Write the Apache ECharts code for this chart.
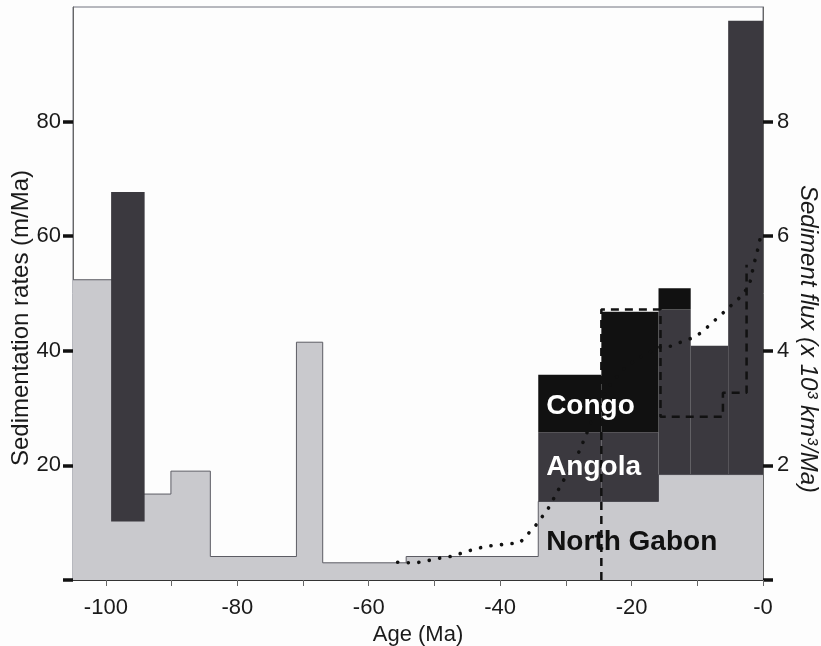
<!DOCTYPE html>
<html>
<head>
<meta charset="utf-8">
<script src="https://cdn.jsdelivr.net/npm/echarts@6/dist/echarts.min.js"></script>
<style>
  html, body { margin: 0; padding: 0; background: #fdfdfd; }
  #chart { width: 821px; height: 646px; }
</style>
</head>
<body>
<div id="chart"></div>
<script>
// North Gabon sedimentation rate (m/Ma): step profile, value holds from each age to the next
const gabonAge  = [-105, -96.5, -90.1, -84.1, -71.0, -67.0, -54.3, -34.2, -15.9, 0];
const gabonRate = [52.4, 15.0, 19.0, 4.1, 41.5, 3.0, 4.1, 13.7, 18.4, 18.4];

// Neogene blocks stacked on top of North Gabon (m/Ma)
const blockStart = [-34.2, -24.6, -15.9, -11.0, -5.3];
const blockEnd   = [-24.6, -15.9, -11.0, -5.3, 0];
const angolaRate = [12.1, 12.1, 28.8, 22.5, 79.2];
const congoRate  = [10.0, 21.0, 3.7, 0, 0];

// isolated Cretaceous bar (m/Ma)
const earlyBarAge  = [-99.2, -94.1];
const earlyBarRate = [10.2, 67.7];

// sediment flux curve (x 10^3 km^3/Ma)
const fluxAge   = [-55.6, -53.8, -52.1, -50.5, -48.8, -47.1, -45.4, -43.8, -42.1, -40.4, -38.7, -37.0,
                   -35.8, -34.6, -33.5, -32.5, -31.4, -30.5, -29.4, -28.4, -27.1, -25.5, -23.6, -21.5,
                   -19.3, -17.2, -15.4, -14.0, -12.1, -10.6, -9.1, -7.8, -6.6, -5.3, -4.0, -2.1, -1.4, -0.8, -0.4];
const fluxValue = [0.31, 0.30, 0.31, 0.35, 0.39, 0.42, 0.49, 0.54, 0.59, 0.61, 0.63, 0.65,
                   0.80, 0.95, 1.12, 1.28, 1.52, 1.71, 1.92, 2.13, 2.48, 2.95, 3.36, 3.65,
                   3.85, 3.98, 4.08, 4.08, 4.17, 4.23, 4.34, 4.49, 4.60, 4.75, 4.87, 5.13, 5.50, 5.77, 5.98];

// dashed step of the flux (x 10^3 km^3/Ma)
const stepAge  = [-24.6, -24.6, -15.6, -15.6, -6.1, -6.1, -2.5, -2.5];
const stepFlux = [0, 4.72, 4.72, 2.85, 2.85, 3.27, 3.27, 5.5];

// tick values
const ageTicks   = [-100, -90, -80, -70, -60, -50, -40, -30, -20, -10, 0];
const ageLabels  = [-100, -80, -60, -40, -20, 0];
const rateTicks  = [0, 20, 40, 60, 80];
const rateLabels = [20, 40, 60, 80];
const fluxTicks  = [0, 2, 4, 6, 8];
const fluxLabels = [2, 4, 6, 8];

// region labels
const regionNames = ['Congo', 'Angola', 'North Gabon'];
const regionAge   = [-33.0, -33.0, -33.0];
const regionRate  = [30.4, 19.6, 6.5];
const regionColor = ['#ffffff', '#ffffff', '#111111'];

const FONT = '"Liberation Sans", Arial, sans-serif';
const LIGHT = '#c9c9cd';
const DARK = '#3b393f';
const BLACK = '#111111';

function gabonAt(age) {
  let v = gabonRate[0];
  for (let i = 0; i < gabonAge.length; i++) {
    if (gabonAge[i] <= age + 1e-6) v = gabonRate[i];
  }
  return v;
}

// rectangles as [x0, x1, y0, y1]
const angolaRects = [];
const congoRects = [];
for (let i = 0; i < blockStart.length; i++) {
  const base = gabonAt(blockStart[i]);
  const aTop = base + angolaRate[i];
  angolaRects.push([blockStart[i], blockEnd[i], base, aTop]);
  if (congoRate[i] > 0) congoRects.push([blockStart[i], blockEnd[i], aTop, aTop + congoRate[i]]);
}
const earlyRects = [[earlyBarAge[0], earlyBarAge[1], earlyBarRate[0], earlyBarRate[1]]];

function rectRenderer(fill) {
  return function (params, api) {
    const p0 = api.coord([api.value(0), api.value(3)]);
    const p1 = api.coord([api.value(1), api.value(2)]);
    return {
      type: 'rect',
      shape: { x: p0[0], y: p0[1], width: p1[0] - p0[0], height: p1[1] - p0[1] },
      style: { fill: fill }
    };
  };
}

const chart = echarts.init(document.getElementById('chart'));

chart.setOption({
  backgroundColor: '#fdfdfd',
  animation: false,
  grid: {
    left: 73, right: 58, top: 7, bottom: 66,
    outerBoundsMode: 'none', containLabel: false,
    show: true, borderColor: '#70737f', borderWidth: 1, backgroundColor: 'transparent'
  },
  xAxis: {
    type: 'value', min: -105, max: 0,
    name: 'Age (Ma)', nameLocation: 'middle', nameGap: 40,
    nameTextStyle: { fontFamily: FONT, fontSize: 22, color: '#1a1a1a' },
    axisLine: { show: true, onZero: false, lineStyle: { color: '#333', width: 2 } },
    axisTick: { show: true, customValues: ageTicks, length: 6, lineStyle: { color: '#666', width: 1 } },
    axisLabel: {
      customValues: ageLabels, margin: 17, fontFamily: FONT, fontSize: 22, color: '#1a1a1a',
      formatter: v => (v === 0 ? '-0' : String(v))
    },
    splitLine: { show: false }
  },
  yAxis: [
    {
      type: 'value', min: 0, max: 100, position: 'left',
      axisLine: { show: true, onZero: false, lineStyle: { color: '#666', width: 1 } },
      axisTick: { show: true, inside: false, customValues: rateTicks, length: 10, lineStyle: { color: '#111', width: 3.5 } },
      axisLabel: { customValues: rateLabels, margin: 12, fontFamily: FONT, fontSize: 22, color: '#1a1a1a' },
      splitLine: { show: false }
    },
    {
      type: 'value', min: 0, max: 10, position: 'right',
      axisLine: { show: true, onZero: false, lineStyle: { color: '#666', width: 1 } },
      axisTick: { show: true, inside: false, customValues: fluxTicks, length: 10, lineStyle: { color: '#111', width: 3.5 } },
      axisLabel: { customValues: fluxLabels, margin: 14, fontFamily: FONT, fontSize: 22, color: '#1a1a1a' },
      splitLine: { show: false }
    }
  ],
  graphic: [
    {
      type: 'text', x: 21, y: 318, rotation: Math.PI / 2,
      style: {
        text: 'Sedimentation rates (m/Ma)', font: '24px ' + FONT, fill: '#1a1a1a',
        align: 'center', verticalAlign: 'middle'
      }
    },
    {
      type: 'text', x: 808, y: 339, rotation: -Math.PI / 2,
      style: {
        text: 'Sediment flux (x 10\u00b3 km\u00b3/Ma)', font: 'italic 24px ' + FONT, fill: '#1a1a1a',
        align: 'center', verticalAlign: 'middle'
      }
    }
  ],
  series: [
    {
      name: 'North Gabon', type: 'line', yAxisIndex: 0, step: 'end', symbol: 'none',
      data: gabonAge.map((a, i) => [a, gabonRate[i]]),
      lineStyle: { color: '#5c5c64', width: 1 },
      areaStyle: { color: LIGHT, opacity: 1 },
      z: 2
    },
    {
      name: 'Angola', type: 'custom', yAxisIndex: 0, renderItem: rectRenderer(DARK),
      data: angolaRects, encode: { x: [0, 1], y: [2, 3] }, z: 3
    },
    {
      name: 'Congo', type: 'custom', yAxisIndex: 0, renderItem: rectRenderer(BLACK),
      data: congoRects, encode: { x: [0, 1], y: [2, 3] }, z: 3
    },
    {
      name: 'Cretaceous', type: 'custom', yAxisIndex: 0, renderItem: rectRenderer(DARK),
      data: earlyRects, encode: { x: [0, 1], y: [2, 3] }, z: 3
    },
    {
      name: 'Flux step', type: 'line', yAxisIndex: 1, symbol: 'none',
      data: stepAge.map((a, i) => [a, stepFlux[i]]),
      lineStyle: { color: BLACK, width: 2.5, type: [8, 6] },
      z: 5
    },
    {
      name: 'Flux', type: 'line', yAxisIndex: 1, symbol: 'none',
      data: fluxAge.map((a, i) => [a, fluxValue[i]]),
      lineStyle: { color: BLACK, width: 3.6, type: [0.1, 10.5], cap: 'round' },
      z: 5
    },
    {
      name: 'Region labels', type: 'custom', yAxisIndex: 0,
      data: regionNames.map((n, i) => [regionAge[i], regionRate[i], i]),
      encode: { x: 0, y: 1 },
      renderItem: function (params, api) {
        const p = api.coord([api.value(0), api.value(1)]);
        const idx = api.value(2);
        return {
          type: 'text', x: p[0], y: p[1],
          style: {
            text: regionNames[idx], fill: regionColor[idx],
            font: 'bold 28px ' + FONT, align: 'left', verticalAlign: 'middle'
          }
        };
      },
      z: 6
    }
  ]
});
</script>
</body>
</html>
